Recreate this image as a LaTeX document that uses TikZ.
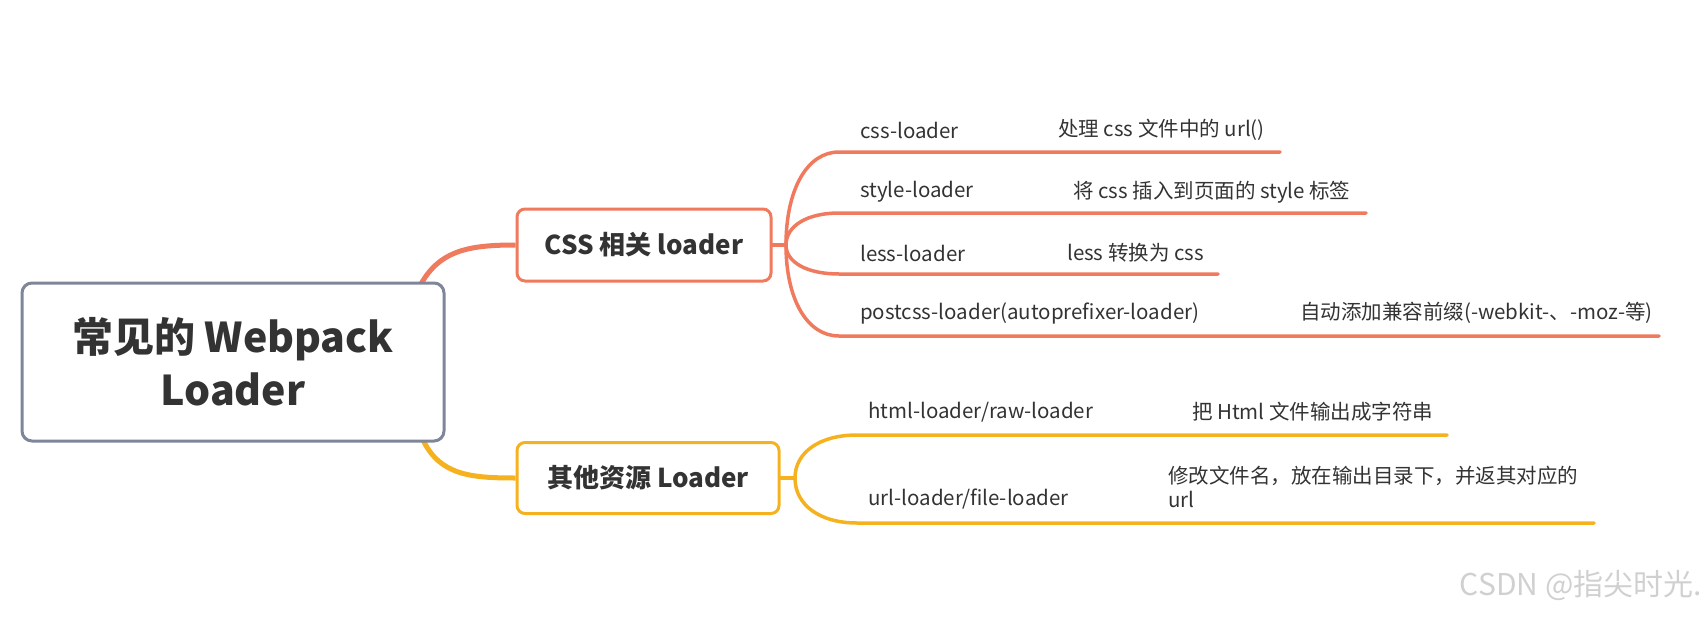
\documentclass[tikz,border=0pt]{standalone}
\usepackage{fontspec}
\setmainfont{Noto Sans CJK SC}
\usetikzlibrary{calc}
\definecolor{cssred}{HTML}{F07A5E}
\definecolor{resorange}{HTML}{F6B21E}
\definecolor{rootgray}{HTML}{7F8699}
\definecolor{txt}{HTML}{333333}
\definecolor{wmgray}{HTML}{D0D0D0}

\begin{document}
\begin{tikzpicture}[x=1pt,y=-1pt,
    topic/.style={draw,line width=3pt,rounded corners=8pt,inner sep=0pt,text=txt,font=\bfseries\fontsize{26}{30}\selectfont},
    leaf/.style={anchor=west,inner sep=0pt,text=txt,align=left,font=\fontsize{20.5}{24}\selectfont},
    twig/.style={line width=3.5pt,line cap=round,line join=round}]
  \useasboundingbox (0,0) rectangle (1708,618);
  % topics and the root
  \coordinate (rt) at (421,284);
  \coordinate (rb) at (423,440);
  \node[topic,draw=cssred,minimum width=254pt,minimum height=72pt] (css) at (644,245) {CSS 相关 loader};
  \node[topic,draw=resorange,minimum width=262pt,minimum height=71pt] (res) at (648,478) {其他资源 Loader};
  \draw[cssred,line width=5pt] (rt) .. controls (440,250) and (470,245) .. (css.west);
  \draw[resorange,line width=5pt] (rb) .. controls (440,475) and (470,478) .. (res.west);
  \node[topic,draw=rootgray,fill=white,rounded corners=10pt,minimum width=422pt,minimum height=158pt,align=center,font=\bfseries\fontsize{41}{53}\selectfont] (root) at (233,362) {常见的 Webpack\\Loader};
  % css loaders
  \coordinate (cf) at (786,245);
  \draw[cssred,twig] (css.east) -- (cf);
  \foreach \i/\ty/\ly/\ex/\dx/\nm/\ds in {1/130/152/1280/1058/css-loader/处理 css 文件中的 url(),
      2/192/213/1366/1073/style-loader/将 css 插入到页面的 style 标签,
      3/253/274/1218/1067/less-loader/less 转换为 css,
      4/313/336/1659/1300/postcss-loader(autoprefixer-loader)/自动添加兼容前缀(-webkit-、-moz-等)} {
    \coordinate (s\i) at (839,\ly); \coordinate (e\i) at (\ex,\ly);
    \draw[cssred,twig] (cf) .. controls ($(cf)!0.6!(cf |- s\i)$) and ($(s\i)!0.6!(cf |- s\i)$) .. (s\i) -- (e\i);
    \node[leaf] (n\i) at (860,\ty) {\nm};
    \node[leaf] (d\i) at (\dx,\ty) {\ds};
  }
  % other loaders
  \coordinate (rf) at (795,478);
  \draw[resorange,twig] (res.east) -- (rf);
  \foreach \i/\ly/\ex in {5/435/1447,6/523/1594} {
    \coordinate (s\i) at (857,\ly); \coordinate (e\i) at (\ex,\ly);
    \draw[resorange,twig] (rf) .. controls ($(rf)!0.6!(rf |- s\i)$) and ($(s\i)!0.6!(rf |- s\i)$) .. (s\i) -- (e\i);
  }
  \node[leaf] (n5) at (868,412) {html-loader/raw-loader};
  \node[leaf] (d5) at (1192,412) {把 Html 文件输出成字符串};
  \node[leaf] (n6) at (868,499) {url-loader/file-loader};
  \node[leaf] (d6) at (1168,487) {修改文件名，放在输出目录下，并返其对应的\\url};
  \node[anchor=east,inner sep=0pt,text=wmgray,font=\fontsize{30}{32}\selectfont] (wm) at (1702,585) {CSDN @指尖时光.};
\end{tikzpicture}
\end{document}
